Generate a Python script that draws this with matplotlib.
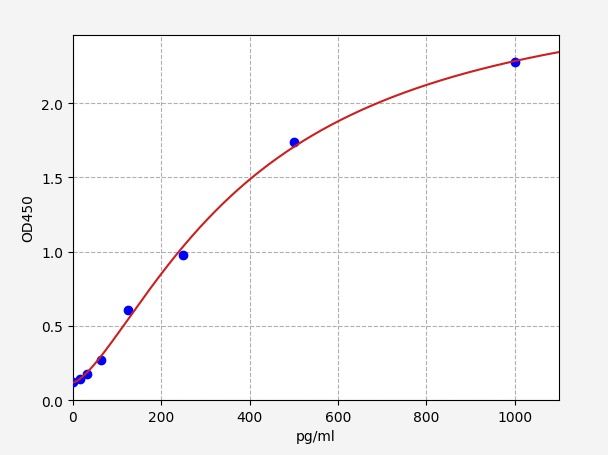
import numpy as np
import matplotlib
matplotlib.use("Agg")
import matplotlib.pyplot as plt

# Standard concentrations (pg/ml) and measured OD450
conc = [0, 15.625, 31.25, 62.5, 125, 250, 500, 1000]
od = [0.123, 0.143, 0.172, 0.268, 0.608, 0.978, 1.737, 2.274]

x_label = "pg/ml"
y_label = "OD450"


def four_pl(x, p):
    a, b, c, d = p
    x = np.asarray(x, dtype=float)
    return d + (a - d) / (1.0 + (np.abs(x) / c) ** b)


def fit_4pl(x, y, p0, iters=500):
    x = np.asarray(x, float)
    y = np.asarray(y, float)
    p = np.array(p0, float)
    lam = 1e-3
    def resid(pp):
        return four_pl(x, pp) - y
    r = resid(p)
    cost = r @ r
    for _ in range(iters):
        J = np.zeros((len(x), len(p)))
        for j in range(len(p)):
            h = 1e-6 * max(abs(p[j]), 1e-3)
            pp = p.copy()
            pp[j] += h
            J[:, j] = (resid(pp) - r) / h
        A = J.T @ J
        g = J.T @ r
        step = np.linalg.solve(A + lam * np.diag(np.diag(A) + 1e-12), -g)
        pn = p + step
        if pn[2] <= 0 or pn[1] <= 0:
            lam *= 10
            continue
        rn = resid(pn)
        cn = rn @ rn
        if cn < cost:
            p, r, cost = pn, rn, cn
            lam = max(lam / 10, 1e-12)
        else:
            lam *= 10
            if lam > 1e12:
                break
    return p


params = fit_4pl(conc, od, [0.1, 1.5, 400.0, 2.8])

fig = plt.figure(figsize=(6.08, 4.56), dpi=100)
fig.patch.set_facecolor("#f4f4f4")
ax = fig.add_axes([0.12, 0.1206, 0.7995, 0.8004])
ax.set_facecolor("white")

xs = np.linspace(0, 1100, 500)
ax.plot(conc, od, "o", color="blue", markersize=6, zorder=3)
ax.plot(xs, four_pl(xs, params), color="#cc1f1f", linewidth=1.5, zorder=4)

ax.set_xlim(0, 1100)
ax.set_ylim(0, 2.458)
ax.set_xticks([0, 200, 400, 600, 800, 1000])
ax.set_yticks([0.0, 0.5, 1.0, 1.5, 2.0])
ax.grid(True, linestyle="--", color="#b0b0b0", linewidth=0.8)
ax.set_axisbelow(True)
ax.set_xlabel(x_label)
ax.set_ylabel(y_label)

fig.savefig("out.png", dpi=100, facecolor=fig.get_facecolor())
